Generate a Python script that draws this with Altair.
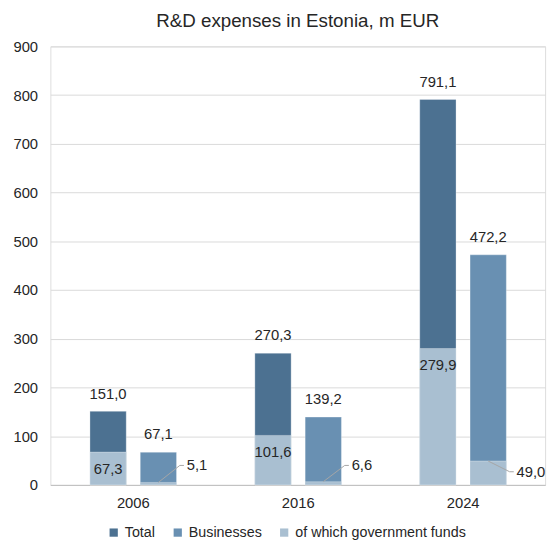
import altair as alt
import pandas as pd

# ---------------- data ----------------
years = ["2006", "2016", "2024"]
total = [151.0, 270.3, 791.1]
total_gov = [67.3, 101.6, 279.9]
businesses = [67.1, 139.2, 472.2]
businesses_gov = [5.1, 6.6, 49.0]
series_names = ["Total", "Businesses", "of which government funds"]
y_ticks = [0, 100, 200, 300, 400, 500, 600, 700, 800, 900]
# heights (m EUR) at which the small business/government labels are placed
small_label_y = [40, 40, 27]

# ---------------- style / layout ----------------
colors = ["#4c7191", "#6990b2", "#a9bfd1"]
FONT = "Liberation Sans"
TXT = "#262626"
FS = 15
BAR_W = 0.22
OFF = {"Total": -0.15, "Businesses": 0.155}


def fmt(v):
    return f"{v:.1f}".replace(".", ",")


full_rows, gov_rows, lead_rows = [], [], []
for i, yr in enumerate(years):
    c = i + 0.5
    pairs = [("Total", total[i], total_gov[i]), ("Businesses", businesses[i], businesses_gov[i])]
    for name, full, gov in pairs:
        xc = c + OFF[name]
        x0, x1 = xc - BAR_W / 2, xc + BAR_W / 2
        full_rows.append({"year": yr, "series": name, "x0": x0, "x1": x1, "xc": xc,
                          "value": full, "label": fmt(full)})
        gov_rows.append({"year": yr, "series": series_names[2], "parent": name, "x0": x0,
                         "x1": x1, "xc": xc, "value": gov, "label": fmt(gov)})
        if name == "Businesses":
            lead_rows.append({"lx0": xc, "ly0": gov, "lx1": x1 + 0.02, "ly1": small_label_y[i],
                              "lx2": x1 + 0.045, "tx": x1 + 0.062, "label": fmt(gov)})

full_df = pd.DataFrame(full_rows)
gov_df = pd.DataFrame(gov_rows)
lead_df = pd.DataFrame(lead_rows)

x_scale = alt.Scale(domain=[0, 3], nice=False, zero=False)
y_scale = alt.Scale(domain=[0, 900], nice=False)
label_expr = "[" + ",".join(f"'{y}'" for y in years) + "][floor(datum.value)]"
x_axis = alt.Axis(values=[i + 0.5 for i in range(len(years))], labelExpr=label_expr,
                  title=None, grid=False, ticks=False, domainColor="#bfbfbf",
                  labelPadding=11, labelFontSize=FS, labelColor=TXT, labelFont=FONT)
y_axis = alt.Axis(values=y_ticks, title=None, grid=True, gridColor="#d9d9d9", domain=False,
                  ticks=False, labelPadding=13, labelFontSize=FS, labelColor=TXT, labelFont=FONT)

color = alt.Color("series:N", scale=alt.Scale(domain=series_names, range=colors),
                  legend=alt.Legend(orient="none", legendX=57, legendY=486, direction="horizontal",
                                    title=None, symbolType="square", symbolSize=70,
                                    symbolStrokeWidth=0, labelFontSize=14.5, labelFont=FONT,
                                    labelColor=TXT, columnPadding=15, labelOffset=4,
                                    labelLimit=400))


def bar_layer(df):
    return alt.Chart(df).mark_bar(stroke="white", strokeWidth=0.5, strokeOpacity=0.6).encode(
        x=alt.X("x0:Q", scale=x_scale, axis=x_axis), x2="x1:Q",
        y=alt.Y("value:Q", scale=y_scale, axis=y_axis), y2=alt.datum(0), color=color)


bars_full = bar_layer(full_df)
bars_gov = bar_layer(gov_df)

top_text = alt.Chart(full_df).mark_text(dy=-18, fontSize=FS, font=FONT, color=TXT).encode(
    x=alt.X("xc:Q", scale=x_scale, axis=x_axis), y=alt.Y("value:Q", scale=y_scale, axis=y_axis),
    text="label:N")

gov_text = alt.Chart(gov_df).transform_filter("datum.parent == 'Total'").mark_text(
    dy=17, fontSize=FS, font=FONT, color=TXT).encode(
    x=alt.X("xc:Q", scale=x_scale, axis=x_axis), y=alt.Y("value:Q", scale=y_scale, axis=y_axis),
    text="label:N")

lead_diag = alt.Chart(lead_df).mark_rule(color="#a6a6a6", strokeWidth=1).encode(
    x=alt.X("lx0:Q", scale=x_scale, axis=x_axis), x2="lx1:Q",
    y=alt.Y("ly0:Q", scale=y_scale, axis=y_axis), y2="ly1:Q")

lead_horiz = alt.Chart(lead_df).mark_rule(color="#a6a6a6", strokeWidth=1).encode(
    x=alt.X("lx1:Q", scale=x_scale, axis=x_axis), x2="lx2:Q",
    y=alt.Y("ly1:Q", scale=y_scale, axis=y_axis))

small_text = alt.Chart(lead_df).mark_text(align="left", fontSize=FS, font=FONT, color=TXT).encode(
    x=alt.X("tx:Q", scale=x_scale, axis=x_axis), y=alt.Y("ly1:Q", scale=y_scale, axis=y_axis),
    text="label:N")

chart = alt.layer(bars_full, bars_gov, lead_diag, lead_horiz, top_text, gov_text, small_text).properties(
    width=502, height=445,
    title=alt.TitleParams("R&D expenses in Estonia, m EUR", fontSize=19, fontWeight="normal",
                          color=TXT, font=FONT, anchor="middle", offset=9),
    padding={"left": 4, "top": 0, "right": 5, "bottom": 0},
).configure_view(stroke=None).configure(font=FONT)

chart.save("out.html", embed_options={"renderer": "svg", "actions": False})
